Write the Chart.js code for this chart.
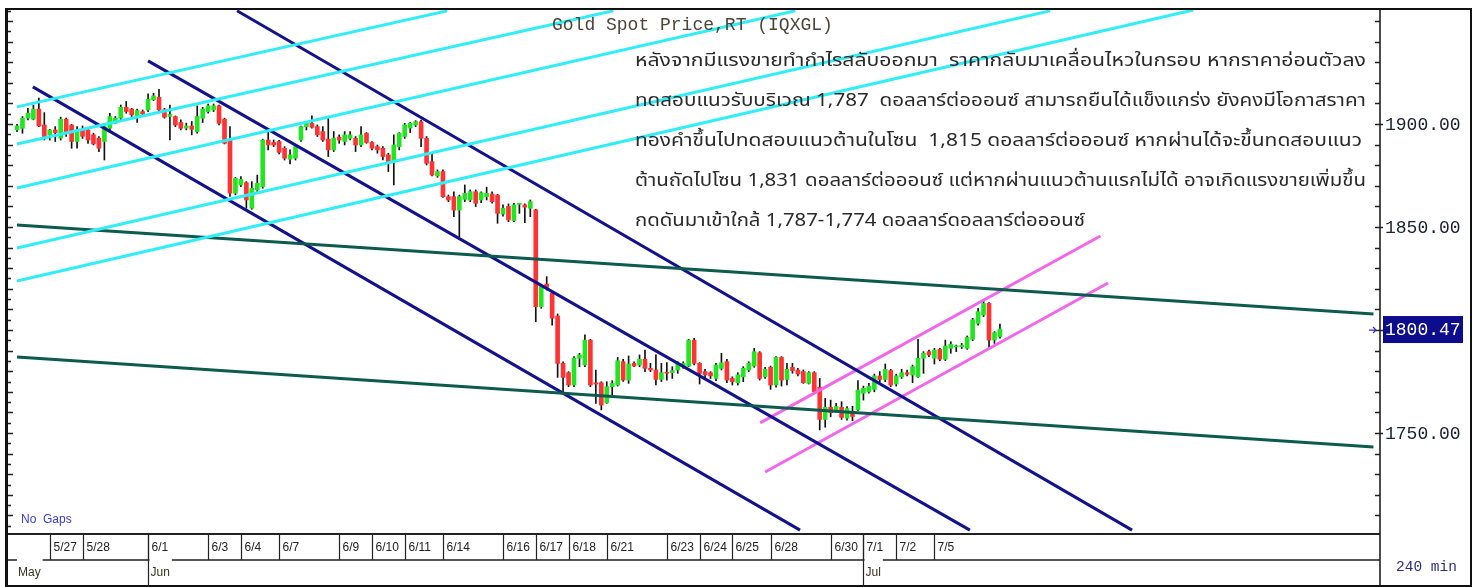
<!DOCTYPE html>
<html>
<head>
<meta charset="utf-8">
<script src="https://cdn.jsdelivr.net/npm/chart.js@4.4.0/dist/chart.umd.min.js"></script>
<style>
  html, body { margin: 0; padding: 0; background: #fff; }
  #wrap { width: 1479px; height: 587px; }
</style>
</head>
<body>
<div id="wrap"><canvas id="goldChart" width="1479" height="587"></canvas></div>
<script>
// 240 min bars, 26 May - 6 Jul
const opens = [
  1897.1,1897.9,1902.8,1902.3,1907.2,1899.5,1894.7,1897.1,1893.1,1902.3,1899.5,1891.5,1897.0,1897.1,1894.7,1893.1,1891.5,1897.9,1900.3,1902.8,1908.1,1907.2,1903.9,1906.0,1906.8,1911.8,1913.0,1906.8,1903.6,1903.6,1900.7,
  1898.0,1899.0,1896.3,1902.8,1906.0,1906.8,1908.8,1902.3,1892.2,1866.4,1870.4,1871.5,1859.1,1868.0,1869.6,1892.2,1891.0,1891.5,1888.2,1882.9,1883.4,1892.2,1898.7,1900.3,1898.7,1896.3,1892.6,1887.4,1893.6,1891.5,
  1893.0,1893.0,1889.8,1895.5,1891.0,1889.0,1888.2,1885.0,1881.7,1889.0,1893.9,1898.0,1899.5,1901.1,1893.0,1881.7,1874.8,1876.9,1864.7,1864.7,1858.2,1863.4,1863.1,1867.1,1863.1,1864.7,1866.0,1865.5,1856.3,1860.0,
  1853.1,1861.0,1860.7,1859.1,1858.3,1811.3,1822.3,1817.8,1806.8,1783.8,1779.3,1773.3,1786.3,1783.0,1795.1,1774.4,1774.4,1764.7,1772.5,1773.3,1784.6,1775.7,1783.8,1783.0,1785.8,1781.4,1780.6,1776.0,1779.3,1779.3,1780.6,
  1782.2,1782.5,1795.1,1783.8,1779.8,1779.3,1776.5,1781.4,1784.6,1776.5,1774.4,1777.3,1780.6,1782.5,1789.0,1777.3,1781.9,1773.3,1786.7,1776.0,1781.9,1780.6,1779.8,1774.1,1779.3,1772.2,1756.6,1762.5,1760.3,1762.5,
  1757.2,1760.0,1761.2,1769.3,1770.0,1771.2,1777.7,1776.0,1780.3,1773.8,1777.3,1779.3,1778.1,1777.3,1786.3,1789.5,1786.3,1790.6,1785.8,1791.1,1791.8,1791.9,1791.1,1795.5,1803.2,1807.3,1812.9,1795.1,1796.8
];
const highs = [
  1899.8,1903.6,1907.6,1909.2,1912.5,1905.5,1897.4,1898.7,1903.3,1902.8,1899.8,1898.7,1899.0,1897.9,1895.5,1893.9,1900.3,1905.2,1903.6,1909.2,1910.9,1907.6,1907.2,1906.8,1914.6,1914.9,1916.8,1907.6,1909.2,1903.9,1902.0,
  1900.4,1901.2,1908.8,1908.1,1909.7,1909.7,1909.2,1902.8,1898.7,1874.1,1874.4,1872.0,1872.0,1875.2,1892.6,1897.1,1892.2,1892.0,1889.0,1887.4,1889.8,1899.0,1901.2,1903.9,1899.5,1898.7,1903.3,1896.3,1894.7,1896.3,
  1896.3,1893.9,1898.7,1895.8,1891.4,1889.8,1889.0,1885.8,1894.7,1895.8,1900.3,1900.7,1901.6,1901.9,1893.9,1886.2,1877.7,1877.7,1865.5,1867.1,1865.5,1870.4,1868.0,1868.0,1867.1,1869.3,1867.1,1865.8,1860.7,1861.2,
  1861.5,1861.5,1861.2,1863.1,1858.6,1821.9,1825.9,1818.6,1807.8,1784.6,1779.8,1787.1,1788.7,1797.6,1795.5,1780.6,1774.9,1774.9,1775.4,1786.7,1785.8,1787.4,1784.6,1787.9,1790.3,1783.8,1787.9,1783.8,1784.2,1782.2,1784.6,
  1784.6,1795.5,1796.0,1784.2,1780.9,1779.8,1783.8,1788.7,1785.8,1777.3,1779.3,1782.2,1784.6,1791.1,1789.5,1781.9,1782.5,1787.1,1787.1,1783.8,1783.8,1781.4,1780.6,1779.8,1779.8,1776.5,1766.8,1766.0,1764.4,1765.2,
  1762.8,1763.0,1775.4,1772.8,1774.1,1778.6,1779.8,1783.5,1780.9,1778.6,1780.9,1780.6,1783.0,1795.5,1789.5,1790.3,1791.1,1791.1,1795.1,1794.3,1792.7,1793.5,1797.1,1805.7,1810.5,1814.9,1813.3,1799.2,1802.9
];
const lows = [
  1896.3,1895.5,1902.0,1902.0,1898.7,1892.2,1892.2,1891.5,1892.2,1893.9,1888.2,1888.2,1893.0,1890.6,1889.8,1886.6,1882.5,1897.1,1900.3,1902.0,1905.2,1903.6,1900.7,1904.4,1906.0,1911.3,1906.5,1902.8,1892.2,1898.7,1897.1,
  1897.1,1894.7,1895.5,1900.7,1905.2,1906.0,1899.5,1890.3,1864.8,1865.6,1869.6,1859.1,1858.6,1867.2,1868.8,1887.4,1889.0,1885.5,1882.5,1880.6,1882.5,1891.5,1897.1,1897.9,1893.9,1891.5,1884.2,1886.6,1890.6,1889.8,
  1892.2,1886.6,1889.0,1890.6,1887.4,1885.8,1882.5,1876.9,1870.4,1887.4,1893.0,1895.8,1898.7,1889.0,1880.1,1874.8,1874.1,1864.4,1862.3,1855.0,1845.3,1862.3,1862.3,1859.9,1861.8,1863.1,1861.5,1851.8,1855.3,1852.6,
  1852.6,1856.6,1852.1,1855.0,1804.0,1810.5,1819.4,1802.4,1777.0,1770.1,1772.5,1772.5,1782.2,1782.2,1772.5,1764.4,1761.2,1764.4,1768.5,1772.8,1775.0,1774.1,1782.2,1782.2,1779.8,1779.8,1773.3,1775.0,1775.7,1776.5,1779.0,
  1781.4,1782.2,1783.0,1773.8,1776.5,1776.5,1775.4,1780.6,1774.4,1773.3,1773.3,1774.9,1779.8,1781.9,1775.7,1776.5,1771.2,1772.2,1772.8,1773.3,1779.0,1777.7,1774.1,1773.8,1769.6,1751.5,1752.8,1757.9,1760.3,1756.6,
  1756.3,1756.0,1760.8,1766.0,1769.3,1770.0,1774.9,1774.9,1772.5,1772.8,1776.5,1777.7,1774.4,1777.0,1779.0,1787.1,1783.5,1785.1,1785.1,1788.7,1789.5,1791.0,1790.6,1794.8,1802.4,1806.5,1791.6,1793.5,1796.0
];
const closes = [
  1899.0,1902.8,1905.2,1907.2,1899.0,1893.9,1897.1,1895.8,1902.3,1895.8,1891.5,1896.3,1894.0,1892.2,1890.3,1888.2,1898.7,1903.6,1902.8,1908.1,1906.0,1904.4,1906.5,1904.9,1912.0,1913.6,1906.8,1903.3,1904.6,1899.5,1897.9,
  1899.0,1897.4,1903.6,1907.2,1908.8,1908.8,1900.3,1890.6,1866.4,1873.6,1873.1,1863.1,1868.8,1871.2,1892.2,1889.8,1889.8,1886.2,1883.4,1885.0,1889.0,1898.7,1900.3,1898.4,1894.7,1892.2,1887.4,1893.1,1892.2,1894.7,
  1894.7,1889.8,1894.7,1891.0,1888.2,1887.4,1884.2,1881.7,1889.8,1895.5,1899.5,1900.3,1901.1,1893.0,1880.9,1875.2,1876.9,1864.7,1863.1,1858.2,1864.7,1866.3,1867.1,1861.5,1866.6,1866.3,1862.3,1856.6,1859.1,1853.4,
  1860.7,1861.3,1859.6,1862.3,1811.3,1821.1,1820.7,1805.7,1783.8,1777.0,1773.3,1786.3,1787.9,1795.1,1773.3,1773.8,1763.6,1772.5,1774.1,1785.1,1775.7,1783.5,1782.5,1785.8,1781.4,1780.6,1776.0,1779.3,1779.0,1780.3,1783.8,
  1783.8,1795.1,1783.8,1779.0,1778.2,1777.7,1783.0,1784.1,1775.7,1774.9,1778.2,1781.4,1783.8,1789.5,1776.5,1780.9,1773.3,1786.7,1775.7,1780.9,1780.3,1778.6,1774.4,1779.3,1770.1,1756.6,1762.5,1759.9,1762.9,1757.6,
  1761.9,1758.0,1770.9,1771.7,1772.8,1777.7,1776.0,1780.9,1773.3,1777.7,1779.3,1778.5,1782.2,1786.3,1788.7,1787.9,1790.3,1785.8,1792.2,1793.1,1792.3,1792.6,1796.4,1804.9,1808.9,1812.9,1795.1,1798.7,1800.5
];

// date row: label and the bar where its divider sits
const dayLabels = ['5/27','5/28','6/1','6/3','6/4','6/7','6/9','6/10','6/11','6/14','6/16','6/17','6/18','6/21','6/23','6/24','6/25','6/28','6/30','7/1','7/2','7/5'];
const dayIndex  = [6, 12, 24, 35, 41, 48, 59, 65, 71, 78, 89, 95, 101, 108, 119, 125, 131, 138, 149, 155, 161, 168];
const monthLabels = ['May', 'Jun', 'Jul'];
const monthIndex  = [null, 24, 155];

const priceTicks = [1900, 1850, 1800, 1750];
const lastPrice = 1800.47;

// drawn trend lines: [bar1, price1, bar2, price2]
const cyanLines = [[0, 1908.3, 78.8, 1954.9], [0, 1890.3, 109.2, 1954.9], [0, 1868.9, 142.5, 1954.9], [0, 1839.8, 189.2, 1954.9], [0, 1823.8, 215.4, 1955.3]];
const navyLines = [[2.9, 1918.0, 143.4, 1702.9], [24.0, 1930.6, 174.5, 1702.9], [40.3, 1954.9, 204.2, 1702.9]];
const tealLines = [[0, 1851.0, 248.4, 1807.8], [0, 1786.9, 248.4, 1743.2]];
const pinkLines = [[136.1, 1754.9, 198.4, 1845.6], [137.0, 1731.1, 199.8, 1822.8]];

const noteLines = [
  'หลังจากมีแรงขายทำกำไรสลับออกมา  ราคากลับมาเคลื่อนไหวในกรอบ หากราคาอ่อนตัวลง',
  'ทดสอบแนวรับบริเวณ 1,787  ดอลลาร์ต่อออนซ์ สามารถยืนได้แข็งแกร่ง ยังคงมีโอกาสราคา',
  'ทองคำขึ้นไปทดสอบแนวต้านในโซน  1,815 ดอลลาร์ต่อออนซ์ หากผ่านได้จะขึ้นทดสอบแนว',
  'ต้านถัดไปโซน 1,831 ดอลลาร์ต่อออนซ์ แต่หากผ่านแนวต้านแรกไม่ได้ อาจเกิดแรงขายเพิ่มขึ้น',
  'กดดันมาเข้าใกล้ 1,787-1,774 ดอลลาร์ดอลลาร์ต่อออนซ์'
];

const n = Math.min(opens.length, highs.length, lows.length, closes.length);
const wickData = [], bodyData = [], bodyColors = [];
for (let i = 0; i < n; i++) {
  wickData.push({ x: i, y: [lows[i], highs[i]] });
  bodyData.push({ x: i, y: [Math.min(opens[i], closes[i]), Math.max(opens[i], closes[i])] });
  bodyColors.push(closes[i] >= opens[i] ? '#22e622' : '#ff3333');
}

function trendSet(seg, color) {
  return {
    type: 'line',
    data: [{ x: seg[0], y: seg[1] }, { x: seg[2], y: seg[3] }],
    borderColor: color, borderWidth: 3, pointRadius: 0, fill: false, tension: 0, order: 1
  };
}

const lineSets = [];
cyanLines.forEach(s => lineSets.push(trendSet(s, '#30eef8')));
tealLines.forEach(s => lineSets.push(trendSet(s, '#0d5a4e')));
navyLines.forEach(s => lineSets.push(trendSet(s, '#12128c')));
pinkLines.forEach(s => lineSets.push(trendSet(s, '#f266ec')));

// frame, axes, date rows and texts
const chartFrame = {
  id: 'chartFrame',
  afterDraw(chart) {
    const { ctx, chartArea: a, scales: { x, y } } = chart;
    ctx.save();

    // borders
    ctx.strokeStyle = '#111';
    ctx.lineWidth = 2;
    ctx.beginPath();
    ctx.moveTo(5, 9); ctx.lineTo(1472, 9);
    ctx.moveTo(1471, 9); ctx.lineTo(1471, 587);
    ctx.moveTo(5, 586); ctx.lineTo(1472, 586);
    ctx.stroke();
    ctx.lineWidth = 3;
    ctx.beginPath(); ctx.moveTo(6.5, 9); ctx.lineTo(6.5, 587); ctx.stroke();
    ctx.lineWidth = 1.5;
    ctx.beginPath(); ctx.moveTo(a.right, 9); ctx.lineTo(a.right, 587); ctx.stroke();

    // left ticks
    ctx.lineWidth = 1.5;
    ctx.strokeStyle = '#222';
    ctx.beginPath();
    for (let v = 1705; v <= 1955; v += 5) {
      const py = Math.round(y.getPixelForValue(v)) + 0.5;
      ctx.moveTo(8, py); ctx.lineTo(v % 10 === 0 ? 13 : 11, py);
    }
    // right ticks
    for (let v = 1710; v <= 1950; v += 10) {
      const py = Math.round(y.getPixelForValue(v)) + 0.5;
      ctx.moveTo(a.right - 5, py); ctx.lineTo(a.right, py);
    }
    priceTicks.forEach(v => {
      const py = Math.round(y.getPixelForValue(v)) + 0.5;
      ctx.moveTo(a.right, py); ctx.lineTo(a.right + 3, py);
    });
    ctx.stroke();

    ctx.font = '18px "Liberation Mono", "DejaVu Sans Mono", monospace';
    ctx.fillStyle = '#1b2030';
    ctx.textBaseline = 'middle';
    priceTicks.forEach(v => ctx.fillText(v.toFixed(2), a.right + 5, y.getPixelForValue(v) + 1));

    // last price box
    const lp = y.getPixelForValue(lastPrice);
    ctx.fillStyle = '#0c0c8c';
    ctx.fillRect(a.right + 3, lp - 13, 80, 27);
    ctx.fillStyle = '#fff';
    ctx.fillText(lastPrice.toFixed(2), a.right + 5, lp + 1);
    ctx.strokeStyle = '#3030c0';
    ctx.lineWidth = 1.2;
    ctx.beginPath();
    ctx.moveTo(a.right - 11, lp + 1); ctx.lineTo(a.right - 4, lp + 1);
    ctx.moveTo(a.right - 7, lp - 2); ctx.lineTo(a.right - 4, lp + 1); ctx.lineTo(a.right - 7, lp + 4);
    ctx.stroke();

    // date rows
    const rowTop = a.bottom, rowMid = a.bottom + 26;
    ctx.strokeStyle = '#222';
    ctx.lineWidth = 2;
    ctx.beginPath(); ctx.moveTo(8, rowTop); ctx.lineTo(a.right, rowTop); ctx.stroke();

    ctx.font = '12px "Liberation Sans", Arial, sans-serif';
    ctx.fillStyle = '#222';
    ctx.lineWidth = 1.2;
    ctx.beginPath();
    dayLabels.forEach((lab, k) => {
      const px = Math.round(x.getPixelForValue(dayIndex[k])) + 0.5;
      ctx.moveTo(px, rowTop); ctx.lineTo(px, rowMid);
      ctx.fillText(lab, px + 3, rowTop + 14);
    });
    ctx.stroke();

    // month row with gaps above labels
    const gaps = [];
    ctx.fillStyle = '#3a3320';
    ctx.beginPath();
    monthLabels.forEach((lab, k) => {
      let lx;
      if (monthIndex[k] === null) {
        lx = a.left + 10;
      } else {
        const px = Math.round(x.getPixelForValue(monthIndex[k])) + 0.5;
        ctx.moveTo(px, rowTop); ctx.lineTo(px, 587);
        lx = px + 2;
      }
      ctx.fillText(lab, lx, rowMid + 13);
      gaps.push([lx - 1, lx + ctx.measureText(lab).width + 2]);
    });
    ctx.stroke();
    ctx.lineWidth = 1.5;
    ctx.beginPath();
    let sx = 8;
    gaps.forEach(g => { ctx.moveTo(sx, rowMid); ctx.lineTo(g[0], rowMid); sx = g[1]; });
    ctx.moveTo(sx, rowMid); ctx.lineTo(a.right, rowMid);
    ctx.stroke();

    // captions
    ctx.font = '14.5px "Liberation Mono", monospace';
    ctx.fillStyle = '#2a2a90';
    ctx.fillText('240 min', 1396, 567);
    ctx.font = '12px "Liberation Sans", Arial, sans-serif';
    ctx.fillStyle = '#3b3bd0';
    ctx.fillText('No  Gaps', 21, 520);
    ctx.font = '18px "Liberation Mono", monospace';
    ctx.fillStyle = '#4d4535';
    ctx.fillText('Gold Spot Price,RT (IQXGL)', 552, 25);

    // commentary text, each line fitted to its width
    ctx.font = '18px "Noto Sans Thai", Tahoma, "Noto Sans", "DejaVu Sans", sans-serif';
    ctx.fillStyle = '#2a2a2a';
    const targets = [731, 731, 727, 731, 450];
    noteLines.forEach((t, k) => {
      const w = ctx.measureText(t).width;
      ctx.save();
      ctx.translate(635, 62 + k * 40);
      ctx.scale(targets[k] / w, 1);
      ctx.fillText(t, 0, 0);
      ctx.restore();
    });

    ctx.restore();
  }
};

new Chart(document.getElementById('goldChart'), {
  type: 'bar',
  data: {
    datasets: [
      ...lineSets,
      { type: 'bar', data: wickData, backgroundColor: '#111', barThickness: 1, grouped: false, order: 5 },
      { type: 'bar', data: bodyData, backgroundColor: bodyColors, barThickness: 4, minBarLength: 1, grouped: false, order: 4 }
    ]
  },
  options: {
    responsive: false,
    animation: false,
    layout: { padding: { left: 8, right: 99, top: 10, bottom: 53 } },
    plugins: { legend: { display: false }, tooltip: { enabled: false } },
    scales: {
      x: { type: 'linear', min: -1.65, max: 249.6, display: false, offset: false },
      y: { min: 1701, max: 1955.3, display: false }
    }
  },
  plugins: [chartFrame]
});
</script>
</body>
</html>
